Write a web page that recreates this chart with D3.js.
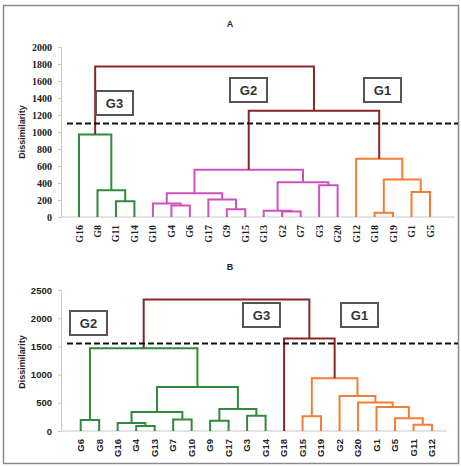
<!DOCTYPE html>
<html>
<head>
<meta charset="utf-8">
<script src="https://cdn.jsdelivr.net/npm/d3@7"></script>
<style>
  body { margin: 0; background: #fff; }
</style>
</head>
<body>
<div id="chart"></div>
<script>
// leaf order along the x axis
var leavesA = ["G16","G8","G11","G14","G10","G4","G6","G17","G9","G15",
               "G13","G2","G7","G3","G20","G12","G18","G19","G1","G5"];
var leavesB = ["G6","G8","G16","G4","G13","G7","G10","G9","G17","G3",
               "G14","G18","G15","G19","G2","G20","G1","G5","G11","G12"];

// merges: [id, left child, right child, dissimilarity]
var mergesA = [
  ["a1","G11","G14",185], ["a2","G8","a1",315], ["a3","G16","a2",970],
  ["a4","G4","G6",135], ["a5","G10","a4",160], ["a6","G9","G15",90],
  ["a7","G17","a6",205], ["a8","a5","a7",280], ["a9","G2","G7",65],
  ["a10","G13","a9",75], ["a11","G3","G20",375], ["a12","a10","a11",410],
  ["a13","a8","a12",555], ["a14","G18","G19",50], ["a15","G1","G5",295],
  ["a16","a14","a15",440], ["a17","G12","a16",685], ["a18","a13","a17",1250],
  ["a19","a3","a18",1770]
];
var mergesB = [
  ["b1","G6","G8",195], ["b2","G4","G13",90], ["b3","G16","b2",140],
  ["b4","G7","G10",205], ["b5","b3","b4",335], ["b6","G9","G17",180],
  ["b7","G3","G14",270], ["b8","b6","b7",390], ["b9","b5","b8",780],
  ["b10","b1","b9",1465], ["b11","G15","G19",260], ["b12","G11","G12",110],
  ["b13","G5","b12",225], ["b14","G1","b13",425], ["b15","G20","b14",505],
  ["b16","G2","b15",620], ["b17","b11","b16",935], ["b18","G18","b17",1640],
  ["b19","b10","b18",2330]
];

// cluster membership
var groupsA = {
  G1: ["G12","G18","G19","G1","G5"],
  G2: ["G10","G4","G6","G17","G9","G15","G13","G2","G7","G3","G20"],
  G3: ["G16","G8","G11","G14"]
};
var groupsB = {
  G1: ["G15","G19","G2","G20","G1","G5","G11","G12"],
  G2: ["G6","G8","G16","G4","G13","G7","G10","G9","G17","G3","G14"],
  G3: ["G18"]
};

var cutA = 1100, cutB = 1550;
var ticksA = [0,200,400,600,800,1000,1200,1400,1600,1800,2000];
var ticksB = [0,500,1000,1500,2000,2500];

var brown = "#8b2525";
var coloursA = { G1: "#f47c36", G2: "#d14fbf", G3: "#2f8a3c" };
var coloursB = { G1: "#f47c36", G2: "#2f8a3c", G3: brown };

var svg = d3.select("#chart").append("svg")
    .attr("width", 461)
    .attr("height", 467);

svg.append("rect")
    .attr("x", 3.5).attr("y", 5.5)
    .attr("width", 455).attr("height", 458)
    .attr("fill", "none")
    .attr("stroke", "#8a8a8a")
    .attr("stroke-width", 1.5);

function drawPanel(opt) {
  var g = svg.append("g");

  var x = d3.scalePoint()
    .domain(opt.leaves)
    .range([opt.x0, opt.x1]);
  var y = d3.scaleLinear()
    .domain([0, d3.max(opt.ticks)])
    .range([opt.yBase, opt.yTop]);

  // title
  g.append("text")
    .attr("x", 230).attr("y", opt.titleY)
    .attr("text-anchor", "middle")
    .attr("font-family", "Liberation Sans, Arial, sans-serif")
    .attr("font-weight", "bold")
    .attr("font-size", 9)
    .attr("fill", "#222")
    .text(opt.title);

  // y axis
  var yAxis = g.append("g")
    .attr("transform", "translate(61,0)")
    .call(d3.axisLeft(y).tickValues(opt.ticks).tickFormat(d3.format("d"))
      .tickSizeInner(3).tickSizeOuter(0).tickPadding(6));
  yAxis.select(".domain").attr("stroke", "#c8c8c8");
  yAxis.selectAll(".tick line").attr("stroke", "#c8c8c8");
  yAxis.selectAll(".tick text")
    .attr("font-family", opt.tickFont)
    .attr("font-weight", "bold")
    .attr("font-size", opt.tickSize)
    .attr("fill", "#222");

  g.append("text")
    .attr("transform", "translate(25," + opt.ylabY + ") rotate(-90)")
    .attr("text-anchor", "middle")
    .attr("font-family", "Liberation Sans, Arial, sans-serif")
    .attr("font-weight", "bold")
    .attr("font-size", 9)
    .attr("fill", "#222")
    .text("Dissimilarity");

  // baseline
  g.append("line")
    .attr("x1", 61).attr("x2", opt.baseEnd)
    .attr("y1", y(0)).attr("y2", y(0))
    .attr("stroke", "#c8c8c8");

  // leaf labels
  g.selectAll(".leaf")
    .data(opt.leaves)
    .enter().append("text")
    .attr("transform", d => "translate(" + x(d) + "," + (y(0) + 8) + ") rotate(-90)")
    .attr("dy", "0.35em")
    .attr("text-anchor", "end")
    .attr("font-family", opt.leafFont)
    .attr("font-weight", "bold")
    .attr("font-size", opt.leafSize)
    .attr("fill", "#222")
    .text(d => d);

  // group of each leaf
  var leafGroup = {};
  Object.keys(opt.groups).forEach(function(k) {
    opt.groups[k].forEach(function(l) { leafGroup[l] = k; });
  });

  // positions of nodes
  var pos = {};
  opt.leaves.forEach(function(l) {
    pos[l] = { x: x(l), h: 0, first: l };
  });
  opt.merges.forEach(function(m) {
    var a = pos[m[1]], b = pos[m[2]];
    pos[m[0]] = { x: (a.x + b.x) / 2, h: m[3], first: a.first };
  });

  g.selectAll(".link")
    .data(opt.merges)
    .enter().append("path")
    .attr("fill", "none")
    .attr("stroke-width", 2)
    .attr("stroke", function(m) {
      if (m[3] > opt.cut) return brown;
      return opt.colours[leafGroup[pos[m[0]].first]];
    })
    .attr("d", function(m) {
      var a = pos[m[1]], b = pos[m[2]], yh = y(m[3]);
      return "M" + a.x + "," + y(a.h) + "V" + yh + "H" + b.x + "V" + y(b.h);
    });

  // cut line
  g.append("line")
    .attr("x1", 67).attr("x2", 458)
    .attr("y1", y(opt.cut)).attr("y2", y(opt.cut))
    .attr("stroke", "#111")
    .attr("stroke-width", 2)
    .attr("stroke-dasharray", "6,3");

  // group boxes
  opt.boxes.forEach(function(b) {
    g.append("rect")
      .attr("x", b[1]).attr("y", b[2])
      .attr("width", 37).attr("height", 24)
      .attr("fill", "#fff")
      .attr("stroke", "#555")
      .attr("stroke-width", 2);
    g.append("text")
      .attr("x", b[1] + 18.5).attr("y", b[2] + 17)
      .attr("text-anchor", "middle")
      .attr("font-family", "Liberation Sans, Arial, sans-serif")
      .attr("font-weight", "bold")
      .attr("font-size", 13)
      .attr("fill", "#333")
      .text(b[0]);
  });
}

drawPanel({
  title: "A", titleY: 27,
  leaves: leavesA, merges: mergesA, groups: groupsA, colours: coloursA,
  cut: cutA, ticks: ticksA,
  x0: 79, x1: 430, yBase: 217, yTop: 47, baseEnd: 455, ylabY: 132,
  tickFont: "Liberation Serif, Times New Roman, serif", tickSize: 10,
  leafFont: "Liberation Serif, Times New Roman, serif", leafSize: 10,
  boxes: [["G3", 96, 91], ["G2", 230, 78], ["G1", 364, 78]]
});

drawPanel({
  title: "B", titleY: 270,
  leaves: leavesB, merges: mergesB, groups: groupsB, colours: coloursB,
  cut: cutB, ticks: ticksB,
  x0: 80.7, x1: 432, yBase: 431, yTop: 290, baseEnd: 447, ylabY: 362,
  tickFont: "Liberation Sans, Arial, sans-serif", tickSize: 9.5,
  leafFont: "Liberation Sans, Arial, sans-serif", leafSize: 9.5,
  boxes: [["G2", 70, 311], ["G3", 243, 303], ["G1", 341, 303]]
});
</script>
</body>
</html>
